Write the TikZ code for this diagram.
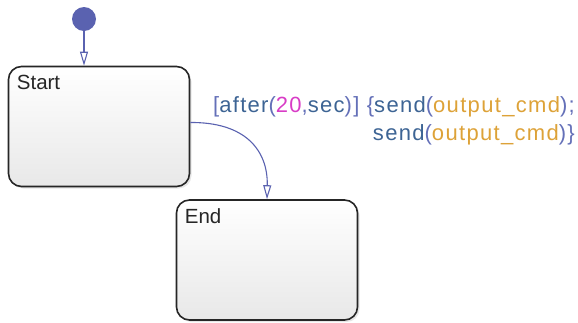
\documentclass[tikz,border=0pt]{standalone}
\usepackage{fontspec}
\setmainfont{Liberation Sans}
\usetikzlibrary{arrows.meta,shadows}

\definecolor{trans}{HTML}{5A62B0}
\definecolor{kwblue}{HTML}{3D6494}
\definecolor{punct}{HTML}{6470B8}
\definecolor{numpink}{HTML}{D83CC6}
\definecolor{dataorg}{HTML}{DDA238}
\definecolor{stateline}{HTML}{262626}

\newcommand{\pn}[1]{\textcolor{punct}{#1}}
\newcommand{\kw}[1]{\textcolor{kwblue}{#1}}
\newcommand{\dt}[1]{\textcolor{dataorg}{#1}}

\tikzset{
  state/.style={draw=stateline, line width=1.6pt, rounded corners=13pt,
    minimum width=181pt, minimum height=120pt,
    top color=white, bottom color=black!9,
    drop shadow={shadow xshift=2pt, shadow yshift=-2pt, opacity=0.2}},
  statename/.style={anchor=north west, inner sep=0pt, font=\fontsize{20.5}{20.5}\selectfont, text=black!85},
  transarrow/.style={draw=trans, line width=1.1pt, -{Triangle[open, length=14pt, width=8pt]}},
}

\begin{document}
\begin{tikzpicture}[x=1pt, y=-1pt]
  \useasboundingbox (0,0) rectangle (578,322);
  % states
  \node[state] (Start) at (99,126.5) {};
  \node[statename] at ([xshift=9pt, yshift=-9pt]Start.north west) {Start};
  \node[state] (End) at (267,260) {};
  \node[statename] at ([xshift=9pt, yshift=-9pt]End.north west) {End};
  % default transition
  \node[circle, fill=trans, minimum size=24pt, inner sep=0pt] (init) at (84,19) {};
  \draw[transarrow] (init) -- (init |- Start.north);
  % timed transition
  \draw[transarrow] ([yshift=4pt]Start.east)
    .. controls (245,122) and (268,150) .. (End.north);
  \node[anchor=north east, align=right, inner sep=0pt,
    font=\fontsize{22}{28}\selectfont\addfontfeatures{LetterSpace=6}] (lbl) at (575,96)
    {\pn{[}\kw{after}\pn{(}\textcolor{numpink}{20}\pn{,}\kw{sec}\pn{)]} \pn{\{}\kw{send}\pn{(}\dt{output\_cmd}\pn{);}\\
     \kw{send}\pn{(}\dt{output\_cmd}\pn{)\}}};
\end{tikzpicture}
\end{document}
